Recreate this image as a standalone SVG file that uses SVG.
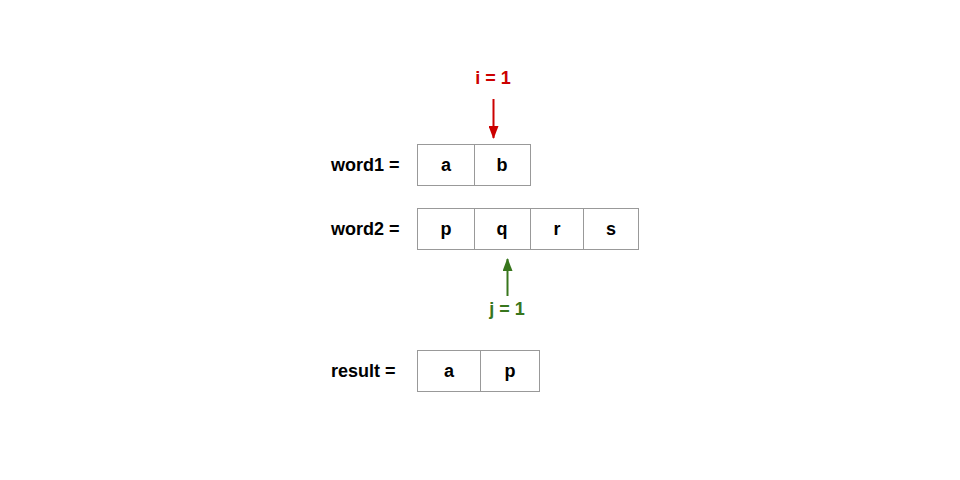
<svg xmlns="http://www.w3.org/2000/svg" width="960" height="480" viewBox="0 0 960 480">
  <style>
    .cell { fill: #ffffff; stroke: #999999; stroke-width: 1; }
    .t { font-family: "Liberation Sans", Arial, sans-serif; font-weight: bold; font-size: 18px; fill: #000000; }
    .c { text-anchor: middle; }
    .red { fill: #cc0000; }
    .green { fill: #38761d; }
  </style>
  <defs>
    <marker id="arrRed" markerWidth="13" markerHeight="10" refX="12" refY="5" orient="auto" markerUnits="userSpaceOnUse">
      <path d="M0,0 L13,5 L0,10 Z" fill="#cc0000"/>
    </marker>
    <marker id="arrGreen" markerWidth="13" markerHeight="10" refX="12" refY="5" orient="auto" markerUnits="userSpaceOnUse">
      <path d="M0,0 L13,5 L0,10 Z" fill="#38761d"/>
    </marker>
  </defs>
  <rect width="960" height="480" fill="#ffffff"/>

  <g id="word1">
    <text class="t" x="331" y="171">word1 =</text>
    <rect class="cell" x="417.5" y="144.5" width="57" height="41"/>
    <rect class="cell" x="474.5" y="144.5" width="56" height="41"/>
    <text class="t c" x="446" y="171">a</text>
    <text class="t c" x="502" y="171">b</text>
  </g>

  <g id="word2">
    <text class="t" x="331" y="235">word2 =</text>
    <rect class="cell" x="417.5" y="208.5" width="57" height="41"/>
    <rect class="cell" x="474.5" y="208.5" width="56" height="41"/>
    <rect class="cell" x="530.5" y="208.5" width="53" height="41"/>
    <rect class="cell" x="583.5" y="208.5" width="55" height="41"/>
    <text class="t c" x="446" y="235">p</text>
    <text class="t c" x="502" y="235">q</text>
    <text class="t c" x="557" y="235">r</text>
    <text class="t c" x="611" y="235">s</text>
  </g>

  <g id="result">
    <text class="t" x="331" y="377">result =</text>
    <rect class="cell" x="417.5" y="350.5" width="63" height="41"/>
    <rect class="cell" x="480.5" y="350.5" width="59" height="41"/>
    <text class="t c" x="449" y="377">a</text>
    <text class="t c" x="510" y="377">p</text>
  </g>

  <g id="pointer-i">
    <text class="t c red" x="493" y="84">i = 1</text>
  </g>
  <g id="pointer-j">
    <text class="t c green" x="507" y="315">j = 1</text>
  </g>

  <g id="connectors">
    <line x1="493.5" y1="99" x2="493.5" y2="138" stroke="#cc0000" stroke-width="2" marker-end="url(#arrRed)"/>
    <line x1="507.5" y1="296" x2="507.5" y2="259" stroke="#38761d" stroke-width="2" marker-end="url(#arrGreen)"/>
  </g>
</svg>
